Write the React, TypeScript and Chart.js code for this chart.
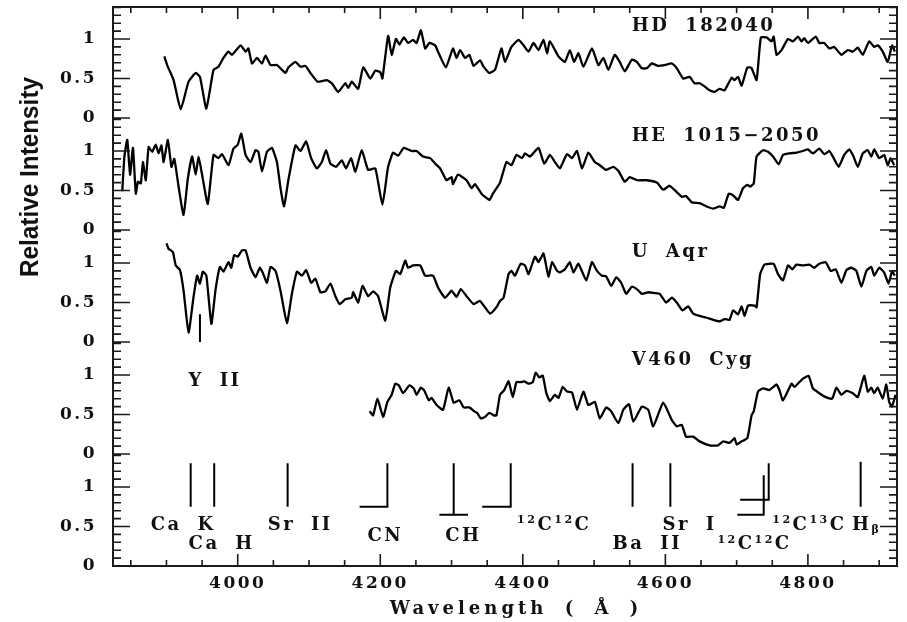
import React, { useEffect, useRef } from 'react';
import { Chart, registerables } from 'chart.js';

Chart.register(...registerables);

// ---------- axes ----------
const X_MIN = 3825;
const X_MAX = 4925;
const PANEL = 1.4177; // vertical offset between stacked panels (in intensity units)
const Y_MAX = 7.076;
const xTickValues = [4000, 4200, 4400, 4600, 4800];
const yTickValues = [0, 0.5, 1];
const yTickLabels = ['0', '0.5', '1'];

// ---------- spectra (wavelength in Å, relative intensity) ----------
const hdLam = [3897, 3901, 3910, 3920, 3931, 3941, 3947, 3956, 3966, 3973, 3980, 3987, 3992, 4004, 4011, 4015, 4020, 4027, 4034, 4039, 4046, 4055, 4067, 4071, 4081, 4088, 4095, 4102, 4112, 4125, 4132, 4141, 4151, 4155, 4160, 4169, 4176, 4186, 4193, 4200, 4203, 4211, 4216, 4222, 4227, 4233, 4239, 4246, 4251, 4257, 4263, 4269, 4277, 4281, 4292, 4302, 4307, 4312, 4319, 4325, 4331, 4340, 4345, 4353, 4361, 4370, 4375, 4384, 4394, 4401, 4408, 4415, 4422, 4429, 4434, 4438, 4450, 4459, 4466, 4472, 4478, 4485, 4497, 4506, 4513, 4520, 4529, 4536, 4543, 4553, 4560, 4567, 4574, 4581, 4590, 4599, 4609, 4616, 4625, 4634, 4641, 4648, 4655, 4662, 4669, 4676, 4683, 4693, 4697, 4702, 4707, 4715, 4721, 4728, 4734, 4742, 4749, 4752, 4756, 4763, 4772, 4779, 4786, 4791, 4795, 4800, 4811, 4816, 4823, 4830, 4837, 4847, 4856, 4863, 4870, 4877, 4886, 4893, 4898, 4905, 4912, 4918, 4922];
const hdFlux = [0.78, 0.67, 0.48, 0.11, 0.46, 0.57, 0.52, 0.12, 0.61, 0.65, 0.76, 0.84, 0.80, 0.92, 0.84, 0.88, 0.69, 0.76, 0.69, 0.79, 0.67, 0.67, 0.57, 0.64, 0.71, 0.65, 0.66, 0.57, 0.46, 0.48, 0.44, 0.33, 0.44, 0.38, 0.46, 0.37, 0.64, 0.50, 0.60, 0.58, 0.50, 1.04, 0.80, 1.00, 0.93, 1.02, 0.95, 0.99, 0.95, 1.11, 0.88, 0.95, 0.92, 0.84, 0.64, 0.88, 0.76, 0.86, 0.76, 0.80, 0.66, 0.73, 0.65, 0.57, 0.61, 0.88, 0.71, 0.90, 0.99, 0.92, 0.84, 0.95, 0.86, 0.99, 0.82, 0.97, 0.78, 0.71, 0.86, 0.71, 0.82, 0.65, 0.88, 0.67, 0.76, 0.61, 0.80, 0.71, 0.59, 0.74, 0.71, 0.63, 0.63, 0.69, 0.66, 0.67, 0.69, 0.63, 0.50, 0.52, 0.44, 0.44, 0.40, 0.35, 0.33, 0.37, 0.35, 0.51, 0.48, 0.52, 0.41, 0.64, 0.63, 0.48, 1.02, 1.02, 0.97, 1.03, 0.80, 0.86, 1.00, 0.97, 1.03, 0.97, 1.01, 0.95, 1.03, 0.95, 0.95, 0.88, 0.90, 0.80, 0.86, 0.84, 0.89, 0.80, 0.97, 0.90, 0.92, 0.84, 0.71, 0.92, 0.84];

const heLam = [3838, 3841, 3845, 3849, 3853, 3857, 3860, 3864, 3867, 3871, 3875, 3880, 3885, 3889, 3893, 3896, 3902, 3907, 3911, 3917, 3924, 3930, 3936, 3941, 3945, 3950, 3958, 3966, 3973, 3978, 3987, 3994, 4000, 4005, 4011, 4018, 4025, 4029, 4034, 4041, 4048, 4055, 4060, 4065, 4071, 4081, 4088, 4096, 4103, 4111, 4118, 4124, 4130, 4138, 4146, 4152, 4159, 4165, 4174, 4183, 4193, 4203, 4211, 4218, 4225, 4233, 4244, 4251, 4260, 4270, 4277, 4284, 4293, 4300, 4302, 4309, 4321, 4328, 4333, 4342, 4353, 4358, 4368, 4377, 4384, 4391, 4399, 4403, 4410, 4422, 4430, 4438, 4445, 4452, 4462, 4469, 4476, 4483, 4492, 4501, 4508, 4517, 4527, 4534, 4543, 4550, 4560, 4574, 4588, 4597, 4606, 4616, 4623, 4629, 4637, 4648, 4657, 4667, 4676, 4682, 4689, 4695, 4702, 4709, 4715, 4719, 4724, 4728, 4737, 4744, 4751, 4759, 4765, 4774, 4784, 4793, 4800, 4807, 4816, 4823, 4830, 4835, 4843, 4851, 4858, 4864, 4870, 4877, 4884, 4889, 4893, 4900, 4907, 4912, 4916, 4921];
const heFlux = [0.49, 0.93, 1.14, 0.70, 1.04, 0.46, 0.61, 0.59, 0.86, 0.63, 1.05, 0.99, 1.08, 0.97, 1.07, 0.86, 1.14, 0.80, 0.90, 0.55, 0.19, 0.65, 0.93, 0.70, 0.93, 0.70, 0.33, 0.95, 0.91, 0.96, 0.82, 1.03, 1.08, 1.22, 0.95, 0.86, 1.01, 0.99, 0.74, 0.99, 1.04, 0.86, 0.53, 0.30, 0.63, 1.07, 1.00, 1.12, 0.91, 0.78, 0.86, 1.01, 0.84, 0.80, 0.88, 0.78, 0.91, 0.74, 1.01, 0.76, 0.78, 0.32, 0.80, 0.98, 0.94, 1.04, 1.00, 1.00, 0.93, 0.91, 0.84, 0.78, 0.63, 0.67, 0.58, 0.70, 0.63, 0.53, 0.58, 0.46, 0.38, 0.46, 0.60, 0.86, 0.82, 0.95, 0.91, 0.97, 0.93, 1.04, 0.84, 0.95, 0.86, 0.78, 0.96, 0.91, 1.00, 0.78, 0.98, 0.86, 0.82, 0.76, 0.80, 0.75, 0.61, 0.67, 0.63, 0.63, 0.60, 0.51, 0.56, 0.48, 0.42, 0.43, 0.35, 0.34, 0.30, 0.27, 0.30, 0.28, 0.46, 0.44, 0.38, 0.53, 0.57, 0.55, 0.59, 0.93, 1.01, 0.99, 0.93, 0.83, 0.95, 0.97, 0.98, 1.00, 1.02, 0.97, 1.03, 0.96, 1.00, 0.93, 0.80, 0.95, 1.02, 0.93, 0.80, 0.97, 1.01, 0.93, 1.02, 0.91, 0.95, 0.82, 0.91, 0.82];

const uaLam = [3900, 3903, 3909, 3913, 3919, 3924, 3931, 3938, 3943, 3947, 3951, 3956, 3963, 3969, 3975, 3980, 3987, 3991, 3995, 4000, 4006, 4011, 4018, 4025, 4031, 4035, 4041, 4046, 4053, 4060, 4069, 4076, 4083, 4090, 4096, 4103, 4109, 4116, 4123, 4130, 4137, 4143, 4151, 4160, 4162, 4169, 4175, 4183, 4190, 4197, 4207, 4214, 4222, 4228, 4235, 4239, 4246, 4256, 4263, 4274, 4281, 4291, 4300, 4307, 4313, 4321, 4331, 4340, 4354, 4363, 4368, 4373, 4380, 4384, 4389, 4397, 4403, 4408, 4417, 4422, 4429, 4436, 4441, 4448, 4452, 4459, 4466, 4471, 4478, 4489, 4497, 4504, 4511, 4517, 4524, 4531, 4538, 4545, 4553, 4560, 4567, 4576, 4585, 4592, 4601, 4609, 4616, 4624, 4632, 4639, 4648, 4657, 4667, 4676, 4683, 4690, 4695, 4702, 4707, 4711, 4716, 4725, 4728, 4733, 4739, 4746, 4752, 4758, 4765, 4772, 4778, 4784, 4793, 4802, 4809, 4816, 4825, 4832, 4839, 4847, 4854, 4861, 4868, 4875, 4882, 4889, 4893, 4900, 4907, 4913, 4918, 4922];
const uaFlux = [1.25, 1.18, 1.14, 0.97, 0.91, 0.65, 0.12, 0.57, 0.84, 0.74, 0.89, 0.84, 0.23, 0.67, 0.95, 0.89, 1.01, 0.94, 1.10, 1.08, 1.16, 1.16, 0.94, 0.82, 0.94, 0.88, 0.75, 0.95, 0.90, 0.65, 0.24, 0.61, 0.89, 0.84, 0.91, 0.75, 0.80, 0.63, 0.64, 0.74, 0.58, 0.48, 0.54, 0.56, 0.63, 0.50, 0.71, 0.58, 0.64, 0.58, 0.27, 0.69, 0.90, 0.86, 1.03, 0.94, 0.97, 0.97, 0.84, 0.84, 0.69, 0.56, 0.65, 0.57, 0.67, 0.58, 0.48, 0.52, 0.36, 0.44, 0.52, 0.56, 0.86, 0.90, 0.84, 0.99, 0.97, 0.86, 1.08, 1.01, 1.12, 0.83, 1.01, 0.90, 0.88, 0.92, 1.01, 0.88, 0.99, 0.78, 1.01, 0.90, 0.84, 0.83, 0.71, 0.82, 0.75, 0.61, 0.70, 0.67, 0.61, 0.63, 0.62, 0.61, 0.50, 0.56, 0.50, 0.40, 0.45, 0.36, 0.33, 0.31, 0.28, 0.26, 0.29, 0.28, 0.40, 0.35, 0.45, 0.33, 0.46, 0.46, 0.44, 0.86, 0.98, 0.99, 0.99, 0.86, 0.78, 0.97, 0.92, 0.98, 0.97, 0.98, 0.94, 0.99, 1.01, 0.90, 0.92, 0.75, 0.91, 0.94, 0.90, 0.70, 0.90, 0.95, 0.84, 0.94, 0.88, 0.74, 0.89, 0.84];

const vcLam = [4185, 4190, 4196, 4204, 4210, 4216, 4221, 4226, 4232, 4241, 4247, 4251, 4257, 4262, 4268, 4272, 4279, 4288, 4296, 4303, 4311, 4317, 4325, 4332, 4336, 4341, 4347, 4353, 4359, 4363, 4368, 4374, 4380, 4386, 4391, 4397, 4402, 4408, 4414, 4418, 4423, 4428, 4433, 4438, 4445, 4450, 4456, 4462, 4469, 4476, 4485, 4492, 4501, 4508, 4517, 4524, 4534, 4541, 4549, 4555, 4567, 4576, 4583, 4597, 4609, 4616, 4623, 4629, 4639, 4648, 4662, 4674, 4681, 4690, 4697, 4700, 4707, 4715, 4721, 4724, 4730, 4737, 4746, 4756, 4760, 4765, 4777, 4781, 4788, 4794, 4801, 4807, 4816, 4825, 4834, 4840, 4847, 4854, 4863, 4870, 4879, 4884, 4889, 4893, 4898, 4905, 4910, 4914, 4918, 4923];
const vcFlux = [0.54, 0.49, 0.70, 0.47, 0.66, 0.75, 0.89, 0.87, 0.77, 0.87, 0.83, 0.75, 0.84, 0.80, 0.68, 0.71, 0.62, 0.56, 0.84, 0.65, 0.68, 0.59, 0.59, 0.54, 0.52, 0.45, 0.47, 0.52, 0.49, 0.49, 0.75, 0.81, 0.92, 0.72, 0.91, 0.91, 0.92, 0.89, 0.91, 1.03, 0.97, 0.99, 0.77, 0.67, 0.75, 0.71, 0.85, 0.79, 0.78, 0.56, 0.79, 0.62, 0.66, 0.45, 0.59, 0.54, 0.39, 0.56, 0.63, 0.41, 0.60, 0.56, 0.35, 0.65, 0.43, 0.35, 0.37, 0.22, 0.22, 0.16, 0.11, 0.11, 0.16, 0.14, 0.20, 0.12, 0.16, 0.20, 0.49, 0.54, 0.79, 0.83, 0.81, 0.88, 0.81, 0.68, 0.89, 0.85, 0.91, 0.96, 0.99, 0.83, 0.77, 0.72, 0.70, 0.84, 0.75, 0.80, 0.77, 0.72, 0.99, 0.79, 0.84, 0.77, 0.84, 0.70, 0.88, 0.66, 0.60, 0.75];

const starNames = ['HD 182040', 'HE 1015\u22122050', 'U Aqr', 'V460 Cyg'];
const starPanels = [4, 3, 2, 1];
const starLabelLam = [4553, 4553, 4553, 4553];
const starLabelY = [1.165, 1.19, 1.14, 1.19];

// ---------- line identifications (bottom panel) ----------
const markerLam = [3934, 3967, 4070, 4210, 4303, 4383, 4554, 4607, 4738, 4745, 4874];
const markerTop = [1.30, 1.30, 1.30, 1.30, 1.30, 1.30, 1.30, 1.30, 1.15, 1.30, 1.32];
const markerBottom = [0.75, 0.75, 0.75, 0.75, 0.65, 0.75, 0.75, 0.75, 0.65, 0.84, 0.75];
const bracketFrom = [null, null, null, 4171, 4283, 4343, null, null, 4701, 4705, null];
const bracketTo = [null, null, null, 4210, 4323, 4383, null, null, 4738, 4745, null];

const lineLabels = ['Ca K', 'Ca H', 'Sr II', 'CN', 'CH', '^{12}C^{12}C', 'Ba II', 'Sr I', '^{12}C^{12}C', '^{12}C^{13}C', 'H_{\u03b2}'];
const lineLabelLam = [3878, 3931, 4042, 4182, 4291, 4392, 4526, 4596, 4673, 4750, 4862];
const lineLabelY = [0.52, 0.27, 0.52, 0.37, 0.37, 0.52, 0.27, 0.52, 0.27, 0.52, 0.52];

// Y II marker in the U Aqr panel
const yiiLam = 3947;
const yiiRange = [0.0, 0.35];
const yiiLabel = 'Y II';
const yiiLabelLam = 3931;
const yiiLabelPanel = 1;
const yiiLabelY = 0.92;

const xTitle = 'Wavelength ( \u00c5 )';
const yTitle = 'Relative Intensity';

const SERIF = '"DejaVu Serif", serif';

function drawRich(ctx: CanvasRenderingContext2D, str: string, x: number, y: number) {
  const parts = str.split(/(\^\{[^}]*\}|_\{[^}]*\})/).filter((p) => p.length > 0);
  let cx = x;
  for (const p of parts) {
    let txt = p;
    let dy = 0;
    let font = `bold 18px ${SERIF}`;
    if (p.startsWith('^{')) {
      txt = p.slice(2, -1);
      dy = -5;
      font = `bold 11px ${SERIF}`;
    } else if (p.startsWith('_{')) {
      txt = p.slice(2, -1);
      dy = 5;
      font = `bold 11px ${SERIF}`;
    }
    ctx.font = font;
    ctx.fillText(txt, cx, y + dy);
    cx += ctx.measureText(txt).width;
  }
}

const decorPlugin = {
  id: 'decor',
  beforeDraw(chart: any) {
    chart.ctx.letterSpacing = '2.5px';
  },
  afterDraw(chart: any) {
    const { ctx, chartArea: a, scales } = chart;
    const xs = scales.x;
    const ys = scales.y;
    ctx.save();
    ctx.strokeStyle = '#1a1a1a';
    ctx.lineWidth = 2;
    ctx.strokeRect(a.left, a.top, a.right - a.left, a.bottom - a.top);
    ctx.lineWidth = 1.6;
    ctx.beginPath();
    for (let l = 3850; l <= 4900; l += 50) {
      const px = xs.getPixelForValue(l);
      const len = l % 200 === 0 ? 12 : 6;
      ctx.moveTo(px, a.bottom);
      ctx.lineTo(px, a.bottom - len);
      ctx.moveTo(px, a.top);
      ctx.lineTo(px, a.top + len);
    }
    for (let k = 0; k < 5; k++) {
      for (let j = 0; j <= 14; j++) {
        const v = k * PANEL + j / 10;
        if (v > Y_MAX) break;
        const py = ys.getPixelForValue(v);
        const len = j % 5 === 0 ? 17 : 8;
        ctx.moveTo(a.left, py);
        ctx.lineTo(a.left + len, py);
        ctx.moveTo(a.right, py);
        ctx.lineTo(a.right - len, py);
      }
    }
    ctx.stroke();

    ctx.fillStyle = '#111';
    ctx.textBaseline = 'middle';
    ctx.textAlign = 'left';
    ctx.letterSpacing = '2.5px';
    (ctx as any).wordSpacing = '7px';
    for (let i = 0; i < starNames.length; i++) {
      drawRich(ctx, starNames[i], xs.getPixelForValue(starLabelLam[i]), ys.getPixelForValue(starPanels[i] * PANEL + starLabelY[i]));
    }
    for (let i = 0; i < lineLabels.length; i++) {
      drawRich(ctx, lineLabels[i], xs.getPixelForValue(lineLabelLam[i]), ys.getPixelForValue(lineLabelY[i]));
    }
    drawRich(ctx, yiiLabel, xs.getPixelForValue(yiiLabelLam), ys.getPixelForValue(yiiLabelPanel * PANEL + yiiLabelY));

    // x title
    ctx.font = `bold 18px ${SERIF}`;
    ctx.textAlign = 'center';
    ctx.letterSpacing = '4px';
    ctx.fillText(xTitle, 516, 609);

    // y title
    ctx.letterSpacing = '0px';
    (ctx as any).wordSpacing = '0px';
    ctx.translate(31, 177);
    ctx.rotate(-Math.PI / 2);
    ctx.font = 'bold 26px "Liberation Sans", sans-serif';
    const w = ctx.measureText(yTitle).width;
    ctx.scale(200 / w, 1);
    ctx.fillText(yTitle, 0, 0);
    ctx.restore();
    ctx.letterSpacing = '0px';
  },
};

function spectrum(lam: number[], flux: number[], panel: number) {
  return lam.map((l, i) => ({ x: l, y: flux[i] + panel * PANEL }));
}

function markerData() {
  const pts: any[] = [];
  for (let i = 0; i < markerLam.length; i++) {
    pts.push({ x: markerLam[i], y: markerTop[i] });
    pts.push({ x: markerLam[i], y: markerBottom[i] });
    if (bracketFrom[i] !== null) {
      pts.push({ x: bracketTo[i], y: markerBottom[i] });
      pts.push({ x: bracketFrom[i], y: markerBottom[i] });
    }
    pts.push({ x: markerLam[i], y: null });
  }
  pts.push({ x: yiiLam, y: 2 * PANEL + yiiRange[0] });
  pts.push({ x: yiiLam, y: 2 * PANEL + yiiRange[1] });
  return pts;
}

export default function App() {
  const ref = useRef<HTMLCanvasElement>(null);
  useEffect(() => {
    if (!ref.current) return;
    const line = (data: any[], w: number) => ({
      data,
      borderColor: '#000',
      borderWidth: w,
      pointRadius: 0,
      tension: 0.15,
      fill: false,
      spanGaps: false,
    });
    const chart = new Chart(ref.current, {
      type: 'line',
      data: {
        datasets: [
          line(spectrum(hdLam, hdFlux, 4), 2.3),
          line(spectrum(heLam, heFlux, 3), 2.3),
          line(spectrum(uaLam, uaFlux, 2), 2.3),
          line(spectrum(vcLam, vcFlux, 1), 2.3),
          { ...line(markerData(), 2), tension: 0 },
        ] as any,
      },
      options: {
        responsive: false,
        animation: false,
        devicePixelRatio: 1,
        layout: { padding: { top: 7, right: 10, left: 0, bottom: 0 } },
        plugins: { legend: { display: false }, tooltip: { enabled: false }, title: { display: false } },
        scales: {
          x: {
            type: 'linear',
            min: X_MIN,
            max: X_MAX,
            grid: { display: false, drawTicks: false },
            border: { display: false },
            afterBuildTicks: (scale: any) => {
              scale.ticks = xTickValues.map((v) => ({ value: v }));
            },
            afterFit: (scale: any) => {
              scale.height = 56;
              scale.paddingLeft = 0;
              scale.paddingRight = 0;
            },
            ticks: {
              autoSkip: false,
              maxRotation: 0,
              padding: 7,
              color: '#111',
              font: { family: SERIF, weight: 'bold', size: 17 },
              callback: (v: any) => String(v),
            },
          },
          y: {
            type: 'linear',
            min: 0,
            max: Y_MAX,
            grid: { display: false, drawTicks: false },
            border: { display: false },
            afterBuildTicks: (scale: any) => {
              const t: any[] = [];
              for (let k = 0; k < 5; k++) yTickValues.forEach((f) => t.push({ value: k * PANEL + f }));
              scale.ticks = t;
            },
            afterFit: (scale: any) => {
              scale.width = 113;
              scale.paddingTop = 0;
              scale.paddingBottom = 0;
            },
            ticks: {
              autoSkip: false,
              padding: 16,
              color: '#111',
              font: { family: SERIF, weight: 'bold', size: 17 },
              callback: (v: any) => {
                const k = Math.floor((Number(v) + 0.05) / PANEL);
                const f = Math.round((Number(v) - k * PANEL) * 10) / 10;
                const idx = yTickValues.indexOf(f);
                return idx >= 0 ? yTickLabels[idx] : '';
              },
            },
          },
        },
      } as any,
      plugins: [decorPlugin],
    });
    return () => chart.destroy();
  }, []);
  return (
    <div style={{ position: 'absolute', left: 0, top: 0, width: 907, height: 622, background: '#fff' }}>
      <canvas ref={ref} width={907} height={622} style={{ width: 907, height: 622 }} />
    </div>
  );
}
